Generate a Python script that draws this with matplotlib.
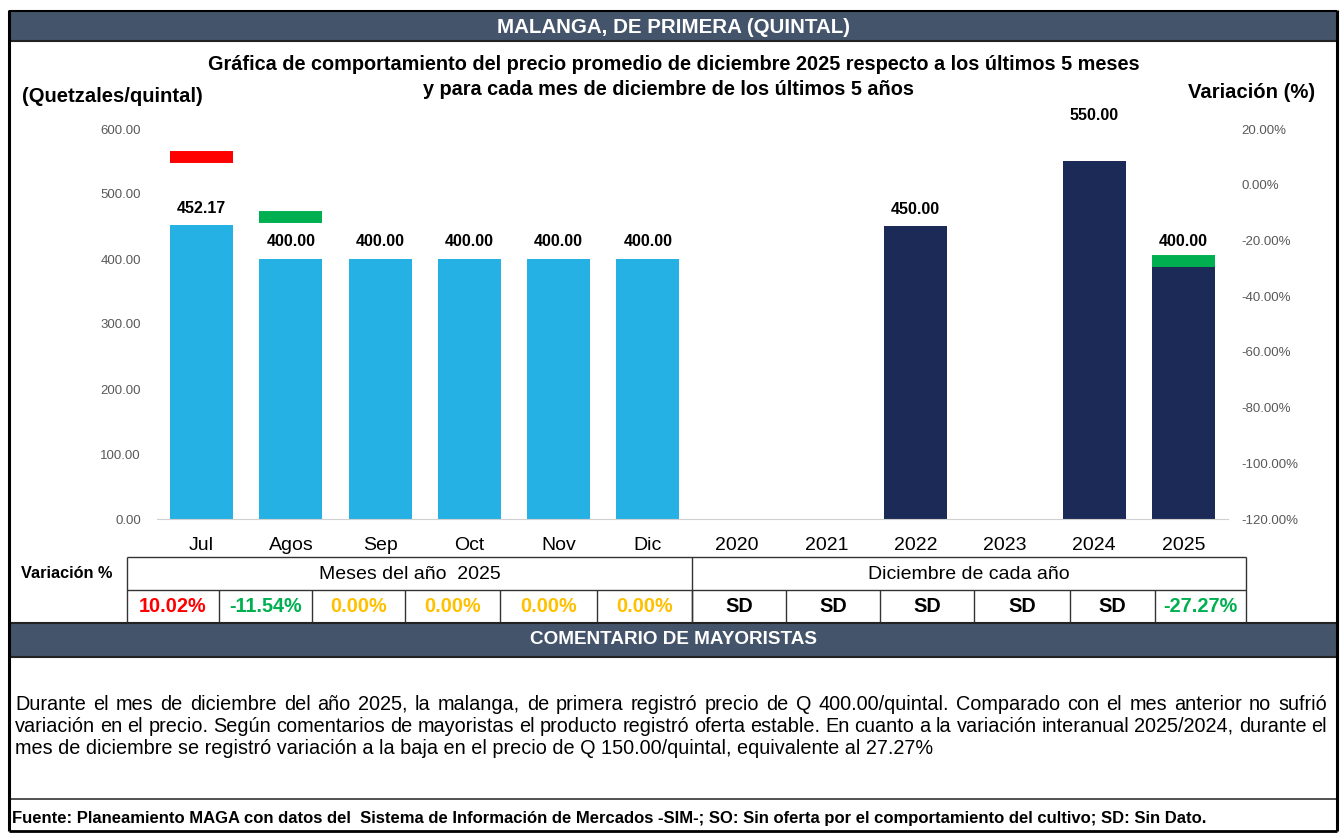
import matplotlib
matplotlib.use("Agg")
import matplotlib.pyplot as plt
from matplotlib import font_manager
from matplotlib.patches import Rectangle
import numpy as np

# ---------------- data ----------------
months = ["Jul", "Agos", "Sep", "Oct", "Nov", "Dic"]
years = ["2020", "2021", "2022", "2023", "2024", "2025"]
month_prices = [452.17, 400.00, 400.00, 400.00, 400.00, 400.00]
year_prices = [None, None, 450.00, None, 550.00, 400.00]
month_var = [10.02, -11.54, 0.00, 0.00, 0.00, 0.00]
year_var = [None, None, None, None, None, -27.27]
left_ticks = [0, 100, 200, 300, 400, 500, 600]
right_ticks = [-120, -100, -80, -60, -40, -20, 0, 20]

header = "MALANGA, DE PRIMERA (QUINTAL)"
title1 = "Gráfica de comportamiento del precio promedio de diciembre 2025 respecto a los últimos 5 meses"
title2 = "y para cada mes de diciembre de los últimos 5 años"
left_label = "(Quetzales/quintal)"
right_label = "Variación (%)"
group_month = "Meses del año  2025"
group_year = "Diciembre de cada año"
comment_title = "COMENTARIO DE MAYORISTAS"
comment_lines = [
    "Durante el mes de diciembre del año 2025, la malanga, de primera registró precio de Q 400.00/quintal. Comparado con el mes anterior no sufrió",
    "variación en el precio. Según comentarios de mayoristas el producto registró oferta estable. En cuanto a la variación interanual 2025/2024, durante el",
    "mes de diciembre se registró variación a la baja en el precio de Q 150.00/quintal, equivalente al 27.27%",
]
footer = ("Fuente: Planeamiento MAGA con datos del  Sistema de Información de Mercados -SIM-; "
          "SO: Sin oferta por el comportamiento del cultivo; SD: Sin Dato.")

# ---------------- style ----------------
names = {f.name for f in font_manager.fontManager.ttflist}
SANS = "Liberation Sans" if "Liberation Sans" in names else "DejaVu Sans"
NARROW = "Liberation Sans Narrow" if "Liberation Sans Narrow" in names else SANS
plt.rcParams["font.family"] = [SANS, "DejaVu Sans"]

BAND = "#44546A"
LIGHT = "#25B1E4"
NAVY = "#1B2A56"
RED = "#FF0000"
GREEN = "#00B050"
YELLOW = "#FFC000"
GREY = "#595959"

W, H = 1341, 833
fig = plt.figure(figsize=(W / 100, H / 100), dpi=100)
renderer = fig.canvas.get_renderer()

bg = fig.add_axes([0, 0, 1, 1])
bg.set_xlim(0, W)
bg.set_ylim(H, 0)
bg.axis("off")
bg.set_zorder(0)


def fit(t, target):
    w = t.get_window_extent(renderer).width
    t.set_fontsize(t.get_fontsize() * target / w)
    return t


def line(x0, y0, x1, y1, lw=1.0, color="black"):
    bg.plot([x0, x1], [y0, y1], color=color, lw=lw, solid_capstyle="butt")


# frame and bands
bg.add_patch(Rectangle((10, 12), 1327, 29, facecolor=BAND, edgecolor="none"))
bg.add_patch(Rectangle((10, 623), 1327, 34, facecolor=BAND, edgecolor="none"))
line(10, 41, 1337, 41, 1.5, "#222222")
line(10, 623, 1337, 623, 1.5, "#222222")
line(10, 657, 1337, 657, 1.5, "#222222")
line(10, 799, 1337, 799, 1.2, "#333333")
line(9, 10, 9, 831, 2.2)
line(1337, 10, 1337, 831, 2.2)
line(9, 11, 1337, 11, 1.5)
line(9, 831, 1337, 831, 2.0)

t = bg.text(674, 27, header, color="white", fontweight="bold", ha="center", va="center", fontsize=12)
fit(t, 353)
t = bg.text(674, 640, comment_title, color="white", fontweight="bold", ha="center", va="center", fontsize=12)
fit(t, 286)

t1 = bg.text(673.5, 64, title1, fontweight="bold", ha="center", va="center", fontsize=12)
fit(t1, 925)
bg.text(668.5, 89, title2, fontweight="bold", ha="center", va="center", fontsize=t1.get_fontsize())
t = bg.text(22, 96, left_label, fontweight="bold", ha="left", va="center", fontsize=12)
fit(t, 180)
bg.text(1315, 92, right_label, fontweight="bold", ha="right", va="center", fontsize=t.get_fontsize())

# ---------------- chart ----------------
ax = fig.add_axes([157 / W, 1 - 519 / H, (1228 - 157) / W, (519 - 129) / H])
ax2 = ax.twinx()
ax.set_zorder(2)
ax2.set_zorder(3)
ax.patch.set_alpha(0)
ax2.patch.set_alpha(0)

cats = months + years
prices = [np.nan if v is None else v for v in month_prices + year_prices]
colors = [LIGHT] * len(months) + [NAVY] * len(years)
x = np.arange(len(cats))
bw = 0.706
ax.bar(x, prices, width=bw, color=colors, zorder=2)
ax.set_xlim(-0.5, len(cats) - 0.5)
ax.set_ylim(0, 600)
ax.set_yticks(left_ticks)
ax.set_yticklabels([f"{v:.2f}" for v in left_ticks])
ax.set_xticks(x)
ax.set_xticklabels(cats)
ax.tick_params(axis="y", length=0, pad=11.5, labelsize=9.5, labelcolor=GREY)
ax.tick_params(axis="x", length=0, pad=13.3, labelsize=14)
for s in ["top", "left", "right"]:
    ax.spines[s].set_visible(False)
ax.spines["bottom"].set_color("#D0D0D0")
ax.spines["bottom"].set_linewidth(0.8)

label_raise = {"2024": 29}
for xi, c, v in zip(x, cats, prices):
    if np.isnan(v):
        continue
    ax.annotate(f"{v:.2f}", (xi, v), xytext=(0, 17 + label_raise.get(c, 0)),
                textcoords="offset pixels", ha="center", va="center",
                fontweight="bold", fontsize=11.5, family=[NARROW, "DejaVu Sans"],
                annotation_clip=False)

ax2.set_ylim(-120, 20)
ax2.set_yticks(right_ticks)
ax2.set_yticklabels([f"{v:.2f}%" for v in right_ticks])
ax2.tick_params(axis="y", length=0, pad=9.5, labelsize=9.5, labelcolor=GREY)
for s in ax2.spines.values():
    s.set_visible(False)

variations = month_var + year_var
for xi, v in zip(x, variations):
    if v is None or v == 0:
        continue
    ax2.hlines(v, xi - bw / 2, xi + bw / 2, colors=RED if v > 0 else GREEN, lw=8.6, zorder=4)

# ---------------- table ----------------
t = bg.text(67, 574, "Variación %", fontweight="bold", ha="center", va="center", fontsize=12)
fit(t, 91)
row_top, row_mid, row_bot = 557, 590, 622
xl, xm, xr = 127, 692, 1246
line(xl, row_top, xr, row_top, 1.0, "#333333")
line(xl, row_mid, xr, row_mid, 1.0, "#333333")
for xx in (xl, xm, xr):
    line(xx, row_top, xx, row_bot, 1.0, "#333333")
bounds = [127, 219, 312, 405, 500, 597, 692, 786, 880, 974, 1070, 1155, 1246]
for xx in bounds[1:-1]:
    line(xx, row_mid, xx, row_bot, 1.0, "#333333")
bg.text((xl + xm) / 2, 574.5, group_month, ha="center", va="center", fontsize=14)
bg.text((xm + xr) / 2, 574.5, group_year, ha="center", va="center", fontsize=14)


def var_style(v):
    if v is None:
        return "SD", "black"
    if v > 0:
        return f"{v:.2f}%", RED
    if v < 0:
        return f"{v:.2f}%", GREEN
    return f"{v:.2f}%", YELLOW


for i, v in enumerate(variations):
    s, col = var_style(v)
    bg.text((bounds[i] + bounds[i + 1]) / 2, 607, s, color=col, fontweight="bold",
            ha="center", va="center", fontsize=14.3)

# ---------------- comment ----------------
cfam = [NARROW, "DejaVu Sans"]
probe = bg.text(15, 748, comment_lines[2], ha="left", va="center", fontsize=14, family=cfam)
fit(probe, 920)
cfs = probe.get_fontsize()
for line_text, yy in zip(comment_lines[:2], (704, 726)):
    words = line_text.split(" ")
    objs = [bg.text(0, yy, w, ha="left", va="center", fontsize=cfs, family=cfam) for w in words]
    widths = [o.get_window_extent(renderer).width for o in objs]
    gap = (1327 - 15 - sum(widths)) / (len(words) - 1)
    xx = 15
    for o, w in zip(objs, widths):
        o.set_x(xx)
        xx += w + gap

t = bg.text(12, 818, footer, fontweight="bold", ha="left", va="center", fontsize=11, family=cfam)
fit(t, 1200)

fig.savefig("out.png", dpi=100)
